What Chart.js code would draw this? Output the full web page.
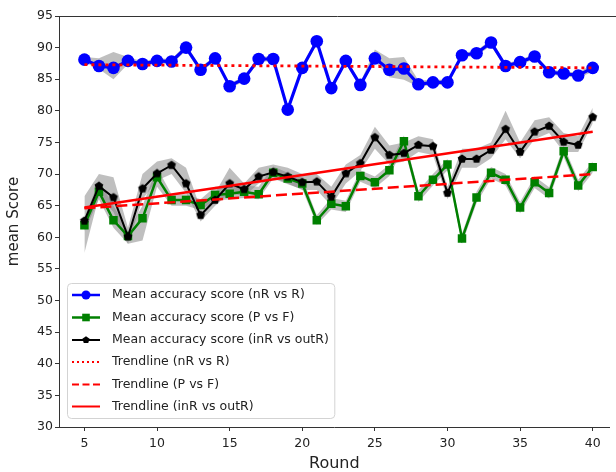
<!DOCTYPE html>
<html><head><meta charset="utf-8">
<script src="https://cdn.jsdelivr.net/npm/chart.js@4.4.1/dist/chart.umd.min.js"></script>
<style>html,body{margin:0;padding:0;background:#fff}</style>
</head><body>
<canvas id="c" width="616" height="472"></canvas>
<script>
const rounds = [5,6,7,8,9,10,11,12,13,14,15,16,17,18,19,20,21,22,23,24,25,26,27,28,29,30,31,32,33,34,35,36,37,38,39,40];
const xTicks = [5,10,15,20,25,30,35,40];
const yTicks = [30,35,40,45,50,55,60,65,70,75,80,85,90,95];

const blueMean = [88.1,87.1,86.8,87.9,87.4,87.9,87.8,90.0,86.5,88.3,83.9,85.1,88.2,88.2,80.2,86.8,91.0,83.6,87.9,84.1,88.3,86.5,86.7,84.2,84.5,84.5,88.8,89.1,90.8,87.1,87.7,88.6,86.1,85.9,85.6,86.8];
const blueLo = [87.7,86.6,85.0,87.4,87.0,87.5,87.4,89.5,86.1,87.9,83.5,84.7,87.8,87.8,79.8,86.4,90.5,83.2,87.5,83.7,87.8,85.3,84.9,83.8,84.1,84.1,88.4,88.7,90.3,86.7,87.3,88.2,85.7,85.5,85.2,86.2];
const blueHi = [88.5,88.3,89.3,88.5,87.8,88.3,88.2,90.5,86.9,88.7,84.3,85.5,88.6,88.6,80.6,87.2,91.5,84.0,88.3,84.5,89.7,88.3,88.5,84.8,84.9,84.9,89.2,89.5,91.3,87.5,88.1,89.0,86.5,86.3,86.0,87.5];

const greenMean = [61.9,67.2,62.7,60.2,63.0,69.5,65.9,65.9,65.1,66.7,66.9,67.2,66.8,70.2,69.3,68.5,62.7,65.3,64.9,69.7,68.7,70.6,75.2,66.5,69.1,71.5,59.8,66.3,70.2,69.1,64.7,68.7,67.0,73.6,68.2,71.1];
const greenLo = [61.0,66.0,61.5,59.0,59.5,68.0,65.0,65.0,64.3,65.8,66.0,66.2,66.0,69.3,68.4,67.6,62.0,64.4,64.0,68.8,67.8,69.7,74.3,65.6,68.2,70.6,59.0,65.4,69.3,68.2,63.8,67.8,66.1,72.7,67.3,70.2];
const greenHi = [63.0,69.0,65.0,61.0,65.0,71.0,66.8,66.8,66.0,68.0,68.0,68.2,68.0,71.2,70.2,69.4,63.5,66.2,65.8,70.6,69.6,71.5,76.1,67.4,70.0,72.4,60.6,67.2,71.1,70.0,65.6,69.6,67.9,74.5,69.1,72.0];

const blackMean = [62.6,68.1,66.3,60.1,67.7,70.1,71.4,68.5,63.5,65.9,68.5,67.6,69.6,70.3,69.6,68.7,68.8,66.4,70.1,71.7,75.8,73.0,73.3,74.6,74.4,67.0,72.4,72.4,73.8,77.1,73.5,76.7,77.6,75.1,74.6,79.0];
const blackLo = [57.5,66.5,64.0,59.0,66.0,69.0,70.0,67.0,62.5,65.0,67.0,66.5,68.5,69.5,68.5,67.5,67.5,65.0,68.5,70.5,74.0,71.5,72.0,73.5,73.0,66.0,71.0,71.0,72.5,75.5,72.5,75.5,76.5,73.5,73.5,78.0];
const blackHi = [66.5,70.0,69.5,61.5,70.0,72.0,72.5,71.0,64.5,67.0,71.0,68.5,71.0,71.5,71.0,70.0,70.0,68.0,71.5,73.0,77.5,74.5,75.0,76.0,75.5,68.0,74.0,74.0,75.0,80.0,75.0,78.5,79.0,76.5,76.0,80.5];

const trendX = [5,40];
const trendBlue = [87.3,86.8];
const trendGreen = [64.6,70.0];
const trendBlack = [64.7,76.7];

const legendLabels = [
  'Mean accuracy score (nR vs R)',
  'Mean accuracy score (P vs F)',
  'Mean accuracy score (inR vs outR)',
  'Trendline (nR vs R)',
  'Trendline (P vs F)',
  'Trendline (inR vs outR)'
];

function pts(ys, xs) { return ys.map((v, i) => ({x: (xs || rounds)[i], y: v})); }

function pentagon(r, color) {
  const c = document.createElement('canvas');
  const s = Math.ceil(r * 2 + 2);
  c.width = s; c.height = s;
  const g = c.getContext('2d');
  g.fillStyle = color;
  g.beginPath();
  for (let i = 0; i < 5; i++) {
    const a = -Math.PI / 2 + i * 2 * Math.PI / 5;
    const px = s / 2 + r * Math.cos(a), py = s / 2 + r * Math.sin(a);
    if (i) g.lineTo(px, py); else g.moveTo(px, py);
  }
  g.closePath(); g.fill();
  return c;
}
const pentaBig = pentagon(4.6, '#000');

const BAND = 'rgba(128,128,128,0.5)';
function band(data, fillTo) {
  return {data, borderWidth: 0, borderColor: 'rgba(0,0,0,0)', backgroundColor: BAND,
    pointRadius: 0, fill: fillTo === undefined ? false : fillTo, order: 10, tension: 0};
}

const datasets = [
  band(pts(blueLo)), band(pts(blueHi), 0),
  band(pts(greenLo)), band(pts(greenHi), 2),
  band(pts(blackLo)), band(pts(blackHi), 4),
  {data: pts(blueMean), borderColor: '#0000ff', backgroundColor: '#0000ff', borderWidth: 3.2,
   pointStyle: 'circle', pointRadius: 6.3, pointBorderWidth: 0, fill: false, order: 5, tension: 0},
  {data: pts(greenMean), borderColor: '#008000', backgroundColor: '#008000', borderWidth: 2.5,
   pointStyle: 'rect', pointRadius: 6, pointBorderWidth: 0, fill: false, order: 4, tension: 0},
  {data: pts(blackMean), borderColor: '#000000', backgroundColor: '#000000', borderWidth: 2,
   pointStyle: pentaBig, pointRadius: 5, pointBorderWidth: 0, fill: false, order: 3, tension: 0},
  {data: pts(trendBlue, trendX), borderColor: '#ff0000', borderWidth: 2.8, borderDash: [3, 4],
   pointRadius: 0, fill: false, order: 1},
  {data: pts(trendGreen, trendX), borderColor: '#ff0000', borderWidth: 2.5, borderDash: [11, 5],
   pointRadius: 0, fill: false, order: 1},
  {data: pts(trendBlack, trendX), borderColor: '#ff0000', borderWidth: 2.5,
   pointRadius: 0, fill: false, order: 1}
];

const FONT = 'DejaVu Sans';
const AX = '#333333';
const TXT = '#222222';

const framePlugin = {
  id: 'frame',
  afterDraw(chart) {
    const {ctx, chartArea: a} = chart;
    ctx.save();
    ctx.strokeStyle = AX; ctx.lineWidth = 1;
    ctx.beginPath(); ctx.moveTo(a.left, a.top + 0.5); ctx.lineTo(chart.width, a.top + 0.5); ctx.stroke();
    // legend
    const fs = 12.5;
    ctx.font = fs + 'px "' + FONT + '"';
    let maxW = 0;
    legendLabels.forEach(t => { maxW = Math.max(maxW, ctx.measureText(t).width); });
    const bx = 67.5, by = 283.5, textX = 112;
    const bw = textX + maxW + 6 - bx, bh = 135;
    ctx.beginPath();
    if (ctx.roundRect) ctx.roundRect(bx, by, bw, bh, 4); else ctx.rect(bx, by, bw, bh);
    ctx.fillStyle = 'rgba(255,255,255,0.8)'; ctx.fill();
    ctx.strokeStyle = '#d3d3d3'; ctx.lineWidth = 1; ctx.stroke();
    const rows = [295, 317.5, 340, 362, 384.5, 406.5];
    const x0 = 72, x1 = 100, xm = 86;
    const styles = [
      {c: '#0000ff', w: 2.5, d: [], m: 'circle'},
      {c: '#008000', w: 2.5, d: [], m: 'rect'},
      {c: '#000000', w: 2, d: [], m: 'penta'},
      {c: '#ff0000', w: 2, d: [2, 3]},
      {c: '#ff0000', w: 2, d: [7, 3.5]},
      {c: '#ff0000', w: 2, d: []}
    ];
    styles.forEach((s, i) => {
      const y = rows[i];
      ctx.strokeStyle = s.c; ctx.lineWidth = s.w; ctx.setLineDash(s.d);
      ctx.beginPath(); ctx.moveTo(x0, y); ctx.lineTo(x1, y); ctx.stroke();
      ctx.setLineDash([]);
      ctx.fillStyle = s.c;
      if (s.m === 'circle') { ctx.beginPath(); ctx.arc(xm, y, 4.5, 0, Math.PI * 2); ctx.fill(); }
      if (s.m === 'rect') { ctx.fillRect(xm - 3.8, y - 3.8, 7.6, 7.6); }
      if (s.m === 'penta') {
        ctx.beginPath();
        for (let k = 0; k < 5; k++) {
          const a2 = -Math.PI / 2 + k * 2 * Math.PI / 5;
          const px = xm + 3.8 * Math.cos(a2), py = y + 3.8 * Math.sin(a2);
          if (k) ctx.lineTo(px, py); else ctx.moveTo(px, py);
        }
        ctx.closePath(); ctx.fill();
      }
      ctx.fillStyle = TXT; ctx.textBaseline = 'middle'; ctx.textAlign = 'left';
      ctx.fillText(legendLabels[i], textX, y);
    });
    ctx.restore();
  }
};

new Chart(document.getElementById('c'), {
  type: 'line',
  data: {datasets},
  options: {
    responsive: false, animation: false, devicePixelRatio: 1, events: [],
    layout: {padding: {top: 16, right: 0, left: 0, bottom: 0}},
    plugins: {legend: {display: false}, tooltip: {enabled: false}, title: {display: false}},
    scales: {
      x: {
        type: 'linear', min: 3.25, max: 41.17,
        afterBuildTicks: s => { s.ticks = xTicks.map(v => ({value: v})); },
        afterFit: s => { s.height = 45; s.paddingLeft = 0; s.paddingRight = 0; },
        grid: {display: true, drawOnChartArea: false, drawTicks: true, tickLength: 4, color: AX},
        border: {display: true, color: AX, width: 1},
        ticks: {font: {family: FONT, size: 12.5}, color: TXT, padding: 5, maxRotation: 0, autoSkip: false},
        title: {display: true, text: 'Round', font: {family: FONT, size: 16, lineHeight: 1}, color: TXT, padding: 0}
      },
      y: {
        type: 'linear', min: 30, max: 95,
        afterBuildTicks: s => { s.ticks = yTicks.map(v => ({value: v})); },
        afterFit: s => { s.width = 59; s.paddingTop = 0; s.paddingBottom = 0; },
        grid: {display: true, drawOnChartArea: false, drawTicks: true, tickLength: 4, color: AX},
        border: {display: true, color: AX, width: 1},
        ticks: {font: {family: FONT, size: 12.5}, color: TXT, padding: 2, autoSkip: false},
        title: {display: true, text: 'mean Score', font: {family: FONT, size: 15, lineHeight: 1}, color: TXT, padding: {top: 7, bottom: 0}}
      }
    }
  },
  plugins: [framePlugin]
});
</script>
</body></html>
